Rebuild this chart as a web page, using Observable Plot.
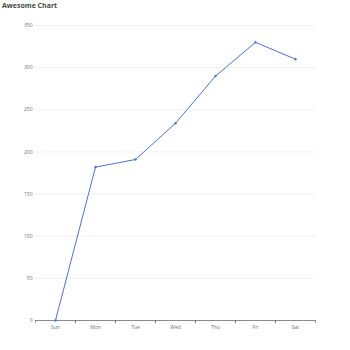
<!DOCTYPE html>
<html><head><meta charset="utf-8">
<script src="https://cdn.jsdelivr.net/npm/d3@7"></script>
<script src="https://cdn.jsdelivr.net/npm/@observablehq/plot@0.6"></script>
<style>
body{margin:0;background:#fff;}
#wrap{position:relative;width:350px;height:350px;}
#title{position:absolute;left:2px;top:0px;font:bold 7px "Open Sans","Noto Sans",sans-serif;color:#464646;line-height:11px;}
</style></head>
<body><div id="wrap"><div id="title">Awesome Chart</div></div>
<script>
const days = ["Sun","Mon","Tue","Wed","Thu","Fri","Sat"];
const values = [0, 182, 191, 234, 290, 330, 310];
const yTicks = [0, 50, 100, 150, 200, 250, 300, 350];

const data = days.map((d, i) => ({day: d, value: values[i]}));
const font = "Open Sans, Noto Sans, sans-serif";

const chart = Plot.plot({
  width: 350, height: 350,
  marginLeft: 35, marginRight: 35, marginTop: 25, marginBottom: 30,
  style: {fontFamily: font, fontSize: "5px", background: "#fff"},
  x: {type: "point", domain: days, padding: 0.5, label: null},
  y: {domain: [0, 350], label: null},
  marks: [
    Plot.gridY(yTicks, {stroke: "#E0E6F1", strokeOpacity: 1, strokeWidth: 0.6}),
    Plot.axisY(yTicks, {tickSize: 0, tickPadding: 3, fill: "#6E7079", fontSize: 5}),
    Plot.ruleY([0], {stroke: "#6E7079", strokeWidth: 0.8}),
    Plot.axisX(days, {tickSize: 0, tickPadding: 5, fill: "#6E7079", fontSize: 5}),
    Plot.axisX(days, {tickSize: 3, tickFormat: () => "", stroke: "#6E7079", dx: -20, strokeWidth: 0.8}),
    Plot.axisX(days, {tickSize: 3, tickFormat: () => "", stroke: "#6E7079", dx: 20, strokeWidth: 0.8}),
    Plot.line(data, {x: "day", y: "value", stroke: "#5470C6", strokeWidth: 1}),
    Plot.dot(data, {x: "day", y: "value", r: 1, fill: "#5470C6", stroke: "#5470C6", strokeWidth: 0.5})
  ]
});
document.getElementById("wrap").appendChild(chart);
</script>
</body></html>
